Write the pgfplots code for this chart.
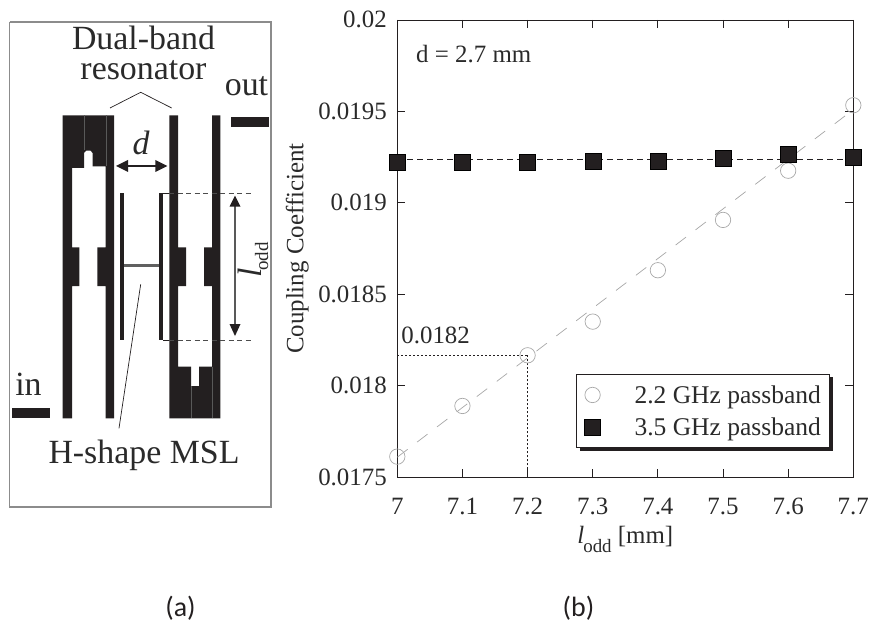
\documentclass[border=0pt]{standalone}
\usepackage{fontspec}
\setmainfont{Liberation Serif}
\newfontfamily\capfont{Carlito}
\usepackage{pgfplots}
\pgfplotsset{compat=1.18}
\usetikzlibrary{shadows}
\definecolor{ink}{HTML}{231F20}
\definecolor{txt}{HTML}{2A2A2A}
\definecolor{circ}{HTML}{A8A8A8}
\newcommand{\fs}{\fontsize{25}{28}\selectfont}
\newcommand{\fb}{\fontsize{34}{38}\selectfont}
\begin{document}
\begin{tikzpicture}
\useasboundingbox (0,0) rectangle (870bp,626bp);
% panel (a): schematic in pixel coordinates
\begin{axis}[name=sch,at={(0,0)},anchor=south west,scale only axis,width=870bp,height=626bp,
  xmin=0,xmax=870,ymin=0,ymax=626,y dir=reverse,hide axis,clip=false]
\addplot[draw=gray!90,line width=1.8bp] coordinates {(9.5,22)(271,22)(271,506.7)(9.5,506.7)(9.5,22)};
\addplot[fill=ink,draw=none] coordinates {(62.7,115.3)(114,115.3)(114,418.3)(105.7,418.3)(105.7,286)(97.3,286)(97.3,247.3)(105.7,247.3)(105.7,166.5)(92.7,166.5)(92.7,153)(90.5,150.7)(86.3,150.7)(84,153)(84,168)(72,168)(72,247.3)(79.3,247.3)(79.3,286)(72,286)(72,418.3)(62.7,418.3)} -- cycle;
\addplot[fill=ink,draw=none] coordinates {(169.3,115.3)(178,115.3)(178,247.3)(186,247.3)(186,286)(178,286)(178,366.7)(191,366.7)(191,386)(199,386)(199,366.7)(212,366.7)(212,286)(204,286)(204,247.3)(212,247.3)(212,115.3)(220.3,115.3)(220.3,418.3)(169.3,418.3)} -- cycle;
\addplot[draw=gray!70!black,line width=0.5bp] coordinates {(84.3,115.3)(84.3,150)};
\addplot[draw=gray!70!black,line width=0.5bp] coordinates {(106,115.3)(106,166)};
\addplot[draw=gray!70!black,line width=0.5bp] coordinates {(191,386)(191,418.3)};
\addplot[draw=gray!70!black,line width=0.5bp] coordinates {(212,367)(212,418.3)};
\addplot[fill=ink,draw=none] coordinates {(231,116.7)(269,116.7)(269,127)(231,127)} -- cycle;
\addplot[fill=ink,draw=none] coordinates {(12,408.3)(50,408.3)(50,418.3)(12,418.3)} -- cycle;
\addplot[fill=ink,draw=none] coordinates {(120.3,192.7)(124,192.7)(124,340)(120.3,340)} -- cycle;
\addplot[fill=ink,draw=none] coordinates {(159.3,192.7)(163.3,192.7)(163.3,340)(159.3,340)} -- cycle;
\addplot[draw=gray!75!black,line width=2.4bp] coordinates {(124,265.3)(159.3,265.3)};
\addplot[draw=ink,line width=0.9bp] coordinates {(163,193)(169,193)};
\addplot[draw=ink,line width=0.9bp] coordinates {(163,340)(169,340)};
\addplot[draw=gray!60!black,line width=0.9bp,dash pattern=on 5bp off 3.5bp] coordinates {(169,193)(253,193)};
\addplot[draw=gray!60!black,line width=0.9bp,dash pattern=on 5bp off 3.5bp] coordinates {(169,340)(252,340)};
\addplot[draw=gray!70!black,line width=1.4bp] coordinates {(235,200)(235,330)};
\addplot[fill=ink,draw=none] coordinates {(235,195.7)(240.5,206.7)(229.5,206.7)} -- cycle;
\addplot[fill=ink,draw=none] coordinates {(235,336)(240.5,324)(229.5,324)} -- cycle;
\addplot[draw=ink,line width=1.4bp] coordinates {(122,166)(162,166)};
\addplot[fill=ink,draw=none] coordinates {(116,166)(128,160)(128,172)} -- cycle;
\addplot[fill=ink,draw=none] coordinates {(167.3,166)(155.3,160)(155.3,172)} -- cycle;
\addplot[draw=ink,line width=0.7bp] coordinates {(110,108)(140.7,92.3)(171.7,108)};
\addplot[draw=ink,line width=0.7bp] coordinates {(140.7,284.3)(119,428.3)};
\node[anchor=base,text=txt,font=\fb,inner sep=0pt] at (axis cs:143.5,50) {Dual-band};
\node[anchor=base,text=txt,font=\fb,inner sep=0pt] at (axis cs:143.5,80) {resonator};
\node[anchor=base,text=txt,font=\fb,inner sep=0pt] at (axis cs:246.5,96) {out};
\node[anchor=base,text=txt,font=\fb,inner sep=0pt] at (axis cs:28.5,395) {in};
\node[anchor=base,text=txt,font=\fb,inner sep=0pt] at (axis cs:144,463) {H-shape MSL};
\node[anchor=base,text=txt,font=\fb\itshape,inner sep=0pt] at (axis cs:141,154) {d};
\node[anchor=base,rotate=90,text=txt,font=\fb,inner sep=0pt] at (axis cs:261,260) {\textit{l}\raisebox{-7bp}{\hspace{-2bp}\fontsize{19}{21}\selectfont odd}};
\node[anchor=base,text=ink,font={\capfont\fontsize{28}{30}\selectfont},inner sep=0pt] at (axis cs:180.5,616) {(a)};
\node[anchor=base,text=ink,font={\capfont\fontsize{28}{30}\selectfont},inner sep=0pt] at (axis cs:578.5,616) {(b)};
\end{axis}
% panel (b)
\begin{axis}[name=main,at={(397.3bp,148.7bp)},anchor=south west,scale only axis,width=456bp,height=457.3bp,
  xmin=7,xmax=7.7,ymin=0.0175,ymax=0.02,clip=false,
  legend image post style={xshift=16bp},
  axis line style={draw=ink,line width=0.9bp},
  tick style={draw=ink,line width=0.9bp},
  tick align=inside,major tick length=8bp,
  xtick={7,7.1,7.2,7.3,7.4,7.5,7.6,7.7},
  xticklabels={7,7.1,7.2,7.3,7.4,7.5,7.6,7.7},
  ytick={0.0175,0.018,0.0185,0.019,0.0195,0.02},
  yticklabels={0.0175,0.018,0.0185,0.019,0.0195,0.02},
  scaled y ticks=false,
  tick label style={font=\fs,text=txt},
  xticklabel style={anchor=base,yshift=-37bp},
  yticklabel style={anchor=base east,xshift=-7bp,yshift=-8bp},
  xlabel={\textit{l}\raisebox{-9bp}{\hspace{-1bp}\fontsize{19}{21}\selectfont odd}\ [mm]},
  ylabel={Coupling Coefficient},
  xlabel style={font=\fs,text=txt,at={(rel axis cs:0.5,0)},anchor=base,yshift=-66bp},
  ylabel style={font=\fs,text=txt,at={(rel axis cs:0,0.5)},anchor=base,yshift=94bp},
  legend style={at={(rel axis cs:0.3919,0.0634)},anchor=south west,draw=ink,line width=1.1bp,fill=white,
    drop shadow={shadow xshift=3bp,shadow yshift=-3bp,fill=ink,opacity=1},
    font=\fontsize{25.6}{28}\selectfont,text=txt,inner xsep=8bp,inner ysep=10bp,row sep=11bp,
    /tikz/every odd column/.append style={column sep=33bp},
    nodes={inner sep=1bp}},
  legend cell align=left]
\addplot[forget plot,draw=gray!70,line width=0.7bp,dash pattern=on 13bp off 12bp] coordinates {(7,0.01761)(7.7,0.01951)};
\addplot[forget plot,draw=ink,line width=0.8bp,dash pattern=on 6bp off 4bp] coordinates {(7,0.019238)(7.7,0.019238)};
\addplot[forget plot,draw=ink,line width=1bp,dash pattern=on 2bp off 2bp] coordinates {(7,0.018167)(7.2,0.018167)};
\addplot[forget plot,draw=ink,line width=1bp,dash pattern=on 2bp off 2bp] coordinates {(7.2,0.0175)(7.2,0.018167)};
\addplot[only marks,mark=o,mark size=7.7bp,mark options={draw=circ,line width=0.7bp,fill=white}] coordinates {
 (7,0.017613)(7.1,0.01789)(7.2,0.018167)(7.3,0.018351)(7.4,0.018632)(7.5,0.018907)(7.6,0.019176)(7.7,0.019534)};
\addlegendentry{2.2 GHz passband}
\addplot[only marks,mark=square*,mark size=8bp,mark options={draw=none,fill=ink}] coordinates {
 (7,0.019224)(7.1,0.019224)(7.2,0.01922)(7.3,0.019228)(7.4,0.019228)(7.5,0.019247)(7.6,0.019266)(7.7,0.019251)};
\addlegendentry{3.5 GHz passband}
\node[anchor=base west,text=txt,font=\fs,inner sep=0pt] at (axis cs:7.0287,0.019765) {d = 2.7 mm};
\node[anchor=base west,text=txt,font=\fs,inner sep=0pt] at (axis cs:7.006,0.018231) {0.0182};
\end{axis}
\end{tikzpicture}
\end{document}
